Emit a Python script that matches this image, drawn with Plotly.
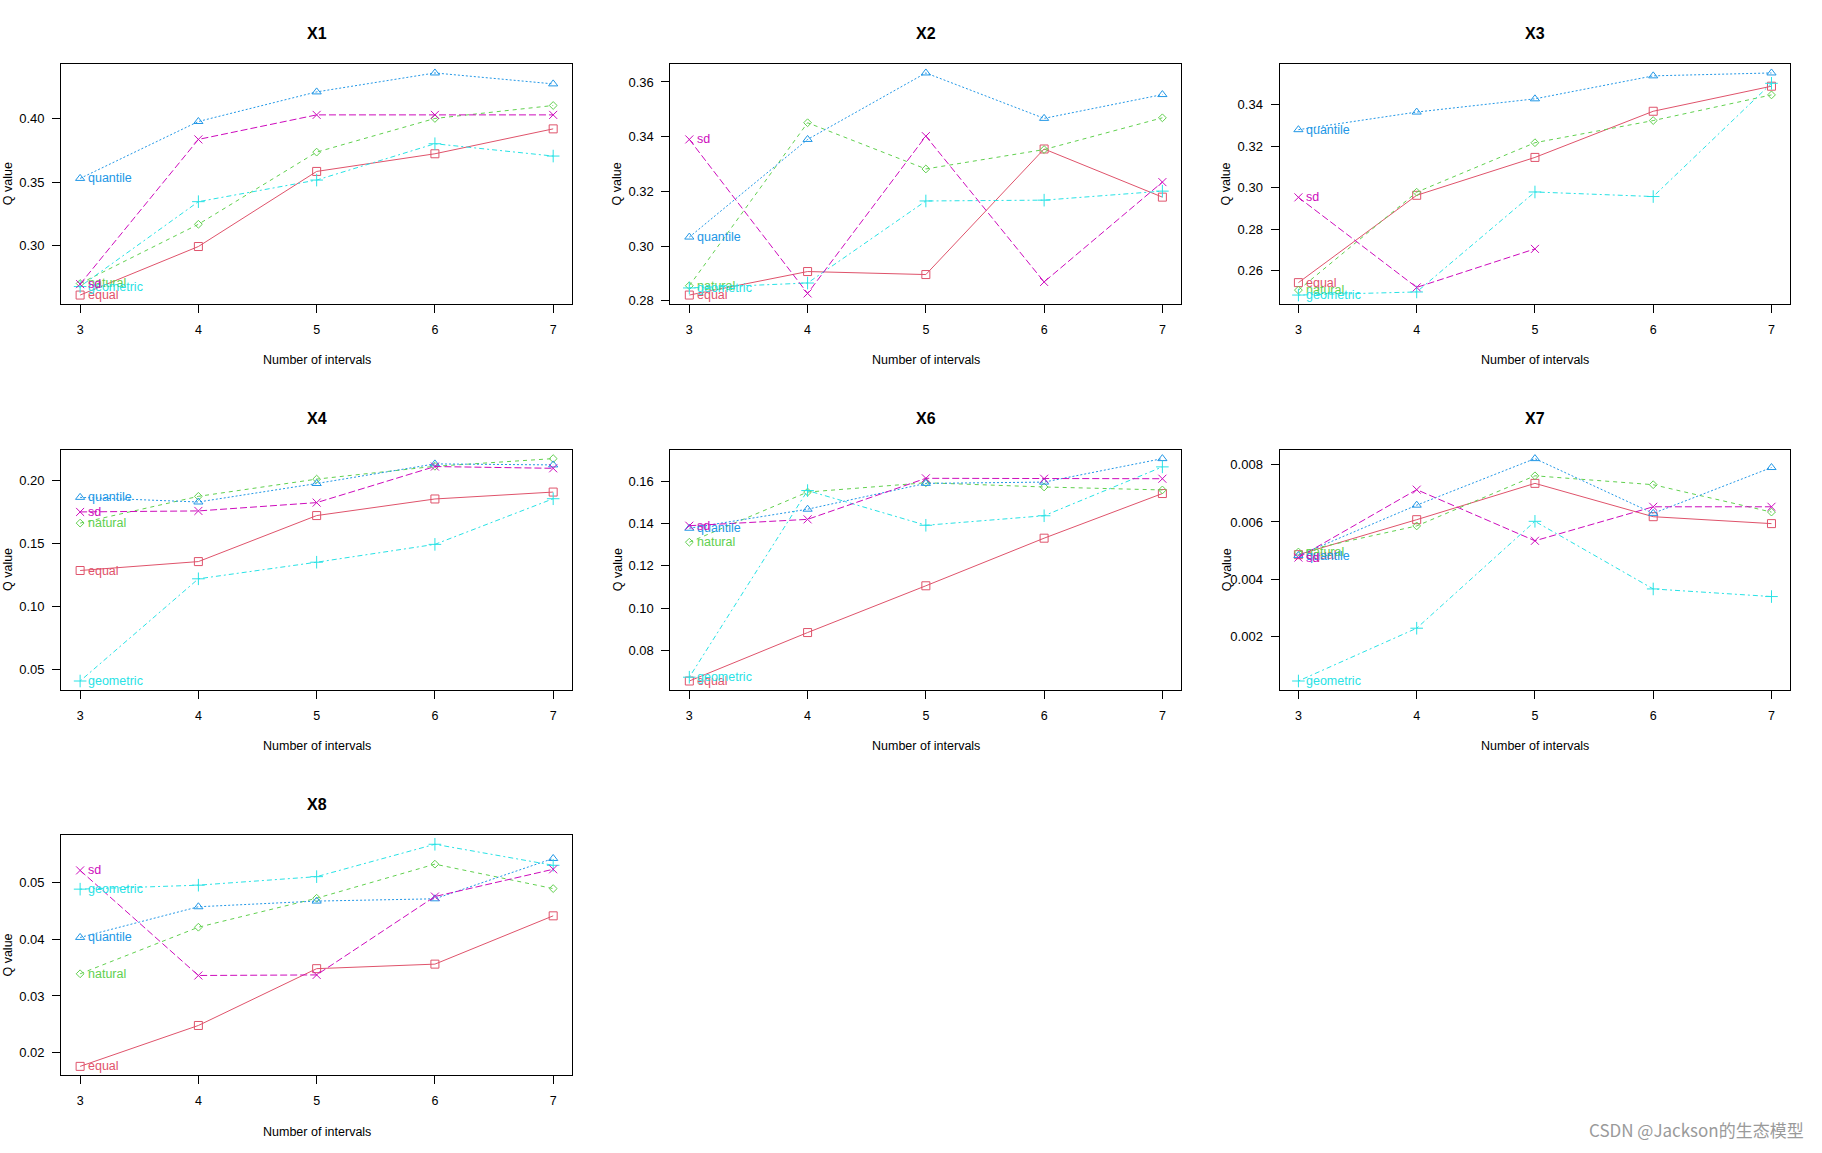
import plotly.graph_objects as go

# ---------------- data ----------------
intervals = [3, 4, 5, 6, 7]
methods = ["equal", "natural", "quantile", "geometric", "sd"]
panel_names = ["X1", "X2", "X3", "X4", "X6", "X7", "X8"]

x1_equal = [0.2613, 0.2995, 0.3586, 0.3725, 0.3921]
x1_natural = [0.2704, 0.3170, 0.3738, 0.4003, 0.4105]
x1_quantile = [0.3531, 0.3979, 0.4212, 0.4361, 0.4275]
x1_geometric = [0.2680, 0.3348, 0.3518, 0.3804, 0.3707]
x1_sd = [0.2699, 0.3838, 0.4031, 0.4031, 0.4031]

x2_equal = [0.2821, 0.2907, 0.2896, 0.3355, 0.3179]
x2_natural = [0.2855, 0.3451, 0.3282, 0.3353, 0.3469]
x2_quantile = [0.3033, 0.3390, 0.3633, 0.3467, 0.3554]
x2_geometric = [0.2847, 0.2865, 0.3165, 0.3168, 0.3201]
x2_sd = [0.3390, 0.2827, 0.3402, 0.2869, 0.3234]

x3_equal = [0.2541, 0.2963, 0.3146, 0.3369, 0.3490]
x3_natural = [0.2505, 0.2978, 0.3217, 0.3324, 0.3448]
x3_quantile = [0.3280, 0.3365, 0.3429, 0.3540, 0.3554]
x3_geometric = [0.2481, 0.2496, 0.2979, 0.2957, 0.3504]
x3_sd = [0.2953, 0.2518, 0.2704, None, None]

x4_equal = [0.1284, 0.1355, 0.1721, 0.1853, 0.1908]
x4_natural = [0.1661, 0.1874, 0.2011, 0.2113, 0.2174]
x4_quantile = [0.1866, 0.1829, 0.1976, 0.2132, 0.2124]
x4_geometric = [0.0405, 0.1218, 0.1350, 0.1492, 0.1855]
x4_sd = [0.1750, 0.1758, 0.1824, 0.2111, 0.2097]

x6_equal = [0.0655, 0.0884, 0.1105, 0.1330, 0.1541]
x6_natural = [0.1311, 0.1548, 0.1592, 0.1572, 0.1558]
x6_quantile = [0.1377, 0.1467, 0.1589, 0.1595, 0.1706]
x6_geometric = [0.0673, 0.1555, 0.1391, 0.1436, 0.1667]
x6_sd = [0.1389, 0.1419, 0.1613, 0.1611, 0.1611]

x7_equal = [0.004862, 0.006080, 0.007345, 0.006184, 0.005943]
x7_natural = [0.004954, 0.005862, 0.007609, 0.007299, 0.006345]
x7_quantile = [0.004830, 0.006586, 0.008207, 0.006300, 0.007897]
x7_geometric = [0.000460, 0.002299, 0.006023, 0.003667, 0.003402]
x7_sd = [0.004760, 0.007126, 0.005345, 0.006529, 0.006529]

x8_equal = [0.0176, 0.0248, 0.0348, 0.0356, 0.0441]
x8_natural = [0.0339, 0.0421, 0.0472, 0.0532, 0.0489]
x8_quantile = [0.0403, 0.0457, 0.0467, 0.0471, 0.0542]
x8_geometric = [0.0488, 0.0495, 0.0510, 0.0567, 0.0530]
x8_sd = [0.0521, 0.0336, 0.0337, 0.0475, 0.0523]

y_dticks = [0.05, 0.02, 0.02, 0.05, 0.02, 0.002, 0.01]
y_formats = [".2f", ".2f", ".2f", ".2f", ".2f", ".3f", ".2f"]

# ---------------- styling ----------------
colors = {"equal": "#DF536B", "natural": "#61D04F", "quantile": "#2297E6",
          "geometric": "#28E2E5", "sd": "#CD0BBC"}
symbols = {"equal": "square-open", "natural": "diamond-open", "quantile": "triangle-up-open",
           "geometric": "cross-thin-open", "sd": "x-thin-open"}
msizes = {"equal": 8, "natural": 6, "quantile": 8, "geometric": 9, "sd": 8}
dashes = {"equal": "solid", "natural": "4px,4px", "quantile": "2px,2px",
          "geometric": "2px,3px,5px,3px", "sd": "7px,3px"}

panel_data = {
    "X1": [x1_equal, x1_natural, x1_quantile, x1_geometric, x1_sd],
    "X2": [x2_equal, x2_natural, x2_quantile, x2_geometric, x2_sd],
    "X3": [x3_equal, x3_natural, x3_quantile, x3_geometric, x3_sd],
    "X4": [x4_equal, x4_natural, x4_quantile, x4_geometric, x4_sd],
    "X6": [x6_equal, x6_natural, x6_quantile, x6_geometric, x6_sd],
    "X7": [x7_equal, x7_natural, x7_quantile, x7_geometric, x7_sd],
    "X8": [x8_equal, x8_natural, x8_quantile, x8_geometric, x8_sd],
}

W, H = 1822, 1153
col_box = [(61.2, 572.1), (670.4, 1181.3), (1279.5, 1790.4)]
row_box = [(64.3, 305.0), (451.3, 692.3), (838.3, 1079.0)]
FONT = "Liberation Sans, Arial, sans-serif"

fig = go.Figure()
layout = dict(width=W, height=H, margin=dict(l=0, r=0, t=0, b=0),
              paper_bgcolor="white", plot_bgcolor="white", showlegend=False,
              font=dict(family=FONT, size=12.5, color="black"))
annotations = []


def px(v):
    return v / W


def py(v):
    return 1 - v / H


for i, name in enumerate(panel_names):
    r, c = divmod(i, 3)
    l, rr = col_box[c]
    t, b = row_box[r]
    ax = "" if i == 0 else str(i + 1)
    xa, ya = "x" + ax, "y" + ax

    series = panel_data[name]
    vals = [v for s in series for v in s if v is not None]
    lo, hi = min(vals), max(vals)
    pad = 0.04 * (hi - lo)

    for m, s in zip(methods, series):
        fig.add_trace(go.Scatter(
            x=intervals, y=s, mode="lines+markers", xaxis=xa, yaxis=ya,
            connectgaps=False,
            line=dict(color=colors[m], width=1, dash=dashes[m]),
            marker=dict(symbol=symbols[m], size=msizes[m], color=colors[m],
                        line=dict(color=colors[m], width=1)),
            hoverinfo="skip"))
        annotations.append(dict(
            x=intervals[0], y=s[0], xref=xa, yref=ya, text=m, showarrow=False,
            xanchor="left", yanchor="middle", xshift=6,
            font=dict(family=FONT, size=12.5, color=colors[m])))

    layout["xaxis" + ax] = dict(
        domain=[px(l), px(rr)], anchor=ya, range=[2.84, 7.16],
        tickvals=intervals, ticks="outside", ticklen=8, tickwidth=1, tickcolor="black",
        showline=True, mirror=True, linecolor="black", linewidth=1,
        showgrid=False, zeroline=False, ticklabelstandoff=6,
        tickfont=dict(family=FONT, size=12.5, color="black"))
    layout["yaxis" + ax] = dict(
        domain=[py(b), py(t)], anchor=xa, range=[lo - pad, hi + pad],
        tick0=0, dtick=y_dticks[i], tickformat=y_formats[i],
        ticks="outside", ticklen=8, tickwidth=1, tickcolor="black",
        showline=True, mirror=True, linecolor="black", linewidth=1,
        showgrid=False, zeroline=False, ticklabelstandoff=5,
        tickfont=dict(family=FONT, size=13, color="black"))

    cx = px((l + rr) / 2)
    annotations.append(dict(x=cx, y=py(t - 31), xref="paper", yref="paper",
                            text="<b>" + name + "</b>", showarrow=False,
                            xanchor="center", yanchor="middle",
                            font=dict(family=FONT, size=16, color="black")))
    annotations.append(dict(x=cx, y=py(b + 56.7), xref="paper", yref="paper",
                            text="Number of intervals", showarrow=False,
                            xanchor="center", yanchor="middle",
                            font=dict(family=FONT, size=12.5, color="black")))
    annotations.append(dict(x=px(l - 53), y=py((t + b) / 2), xref="paper", yref="paper",
                            text="Q value", showarrow=False, textangle=-90,
                            xanchor="center", yanchor="middle",
                            font=dict(family=FONT, size=12.5, color="black")))

annotations.append(dict(x=px(1806), y=py(1133), xref="paper", yref="paper",
                        text="CSDN @Jackson的生态模型", showarrow=False,
                        xanchor="right", yanchor="middle",
                        font=dict(family="Noto Sans CJK SC, sans-serif", size=17, color="#9a9a9a")))

layout["annotations"] = annotations
fig.update_layout(**layout)
# remove the default 8px page margin so the figure fills the window exactly
fig.write_html("out.html", config={"displayModeBar": False},
               post_script="document.body.style.margin='0';document.body.style.overflow='hidden';")
